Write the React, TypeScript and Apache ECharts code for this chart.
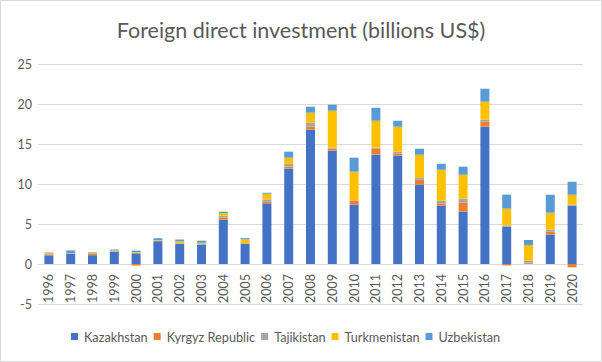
import React, { useEffect, useRef } from "react";
import * as echarts from "echarts";

const years = ["1996","1997","1998","1999","2000","2001","2002","2003","2004","2005","2006","2007","2008","2009","2010","2011","2012","2013","2014","2015","2016","2017","2018","2019","2020"];
const kazakhstan = [1.08,1.3,1.1,1.55,1.33,2.85,2.54,2.42,5.54,2.54,7.58,11.92,16.79,14.17,7.42,13.67,13.54,9.92,7.29,6.54,17.17,4.65,0.05,3.67,7.29];
const kyrgyz = [0.12,0.03,0.15,0.02,-0.2,0.02,0.02,0.03,0.27,0.02,0.2,0.25,0.37,0.25,0.5,0.75,0.25,0.62,0.29,1.12,0.62,-0.18,0.12,0.37,-0.42];
const tajikistan = [0.02,0.02,0.02,0.02,0.02,0.02,0.02,0.08,0.22,0.02,0.3,0.37,0.5,0.12,0.04,0.12,0.25,0.25,0.33,0.5,0.25,0.17,0.25,0.25,0.12];
const turkmenistan = [0.13,0.03,0.12,0.1,0.13,0.08,0.25,0.12,0.35,0.5,0.7,0.75,1.25,4.62,3.58,3.37,3.12,2.87,3.87,3.0,2.25,2.1,1.96,2.12,1.25];
const uzbekistan = [0.09,0.32,0.08,0.12,0.2,0.25,0.23,0.26,0.17,0.16,0.13,0.75,0.75,0.75,1.75,1.62,0.75,0.75,0.75,1.0,1.62,1.75,0.62,2.25,1.62];
const yTicks = { min: -5, max: 25, interval: 5 };

const seriesDefs = [
  { name: "Kazakhstan", data: kazakhstan, color: "#4472C4" },
  { name: "Kyrgyz Republic", data: kyrgyz, color: "#ED7D31" },
  { name: "Tajikistan", data: tajikistan, color: "#A5A5A5" },
  { name: "Turkmenistan", data: turkmenistan, color: "#FFC000" },
  { name: "Uzbekistan", data: uzbekistan, color: "#5B9BD5" },
];

export default function App() {
  const ref = useRef<HTMLDivElement>(null);
  useEffect(() => {
    document.body.style.margin = "0";
    const chart = echarts.init(ref.current!, null, { renderer: "svg" });
    const font = "Lato, 'Noto Sans', sans-serif";
    chart.setOption({
      animation: false,
      backgroundColor: "#ffffff",
      title: {
        text: "Foreign direct investment (billions US$)",
        left: "center",
        top: 14,
        textStyle: { fontFamily: font, fontSize: 21.5, fontWeight: "normal", color: "#595959" },
      },
      legend: {
        top: 325,
        left: 66,
        itemWidth: 7,
        itemHeight: 7,
        itemGap: 6,
        icon: "rect",
        textStyle: { fontFamily: font, fontSize: 12.7, color: "#595959", padding: [0, 0, 0, 1] },
        data: seriesDefs.map((s) => s.name),
      },
      grid: { left: 38, right: 19, top: 64, bottom: 58, containLabel: false },
      xAxis: {
        type: "category",
        data: years,
        position: "bottom",
        offset: -40,
        axisLine: { show: true, onZero: false, lineStyle: { color: "#d9d9d9", width: 1 } },
        axisTick: { show: false },
        axisLabel: { rotate: 90, margin: 10, fontFamily: font, fontSize: 12.5, color: "#595959" },
      },
      yAxis: {
        type: "value",
        min: yTicks.min,
        max: yTicks.max,
        interval: yTicks.interval,
        axisLine: { show: false },
        axisTick: { show: false },
        splitLine: { lineStyle: { color: "#d9d9d9", width: 1 } },
        axisLabel: { margin: 6, fontFamily: font, fontSize: 12.5, color: "#595959" },
      },
      series: seriesDefs.map((s) => ({
        name: s.name,
        type: "bar",
        stack: "total",
        barWidth: 9,
        data: s.data,
        itemStyle: { color: s.color },
      })),
      graphic: [
        {
          type: "rect",
          shape: { x: 0.5, y: 0.5, width: 601, height: 361 },
          style: { fill: "none", stroke: "#d9d9d9", lineWidth: 1 },
          silent: true,
        },
      ],
    });
    return () => chart.dispose();
  }, []);
  return <div ref={ref} style={{ position: "absolute", left: 0, top: 0, width: 602, height: 362 }} />;
}
